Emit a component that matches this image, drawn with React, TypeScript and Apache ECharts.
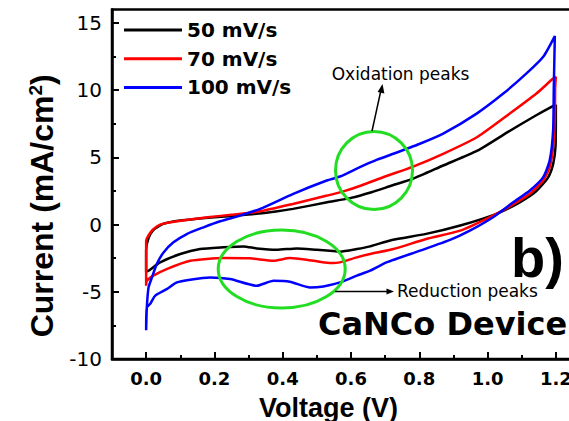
import React, { useEffect, useRef } from "react";
import * as echarts from "echarts";

const seriesNames = ["50 mV/s", "70 mV/s", "100 mV/s"];
const seriesColors = ["#000000", "#ff0000", "#0000ff"];

// 50 mV/s : forward scan (0 -> 1.2 V) then reverse scan (1.2 -> 0 V)
const voltage50 = [0, 0, 0.007, 0.021, 0.05, 0.1, 0.2, 0.3, 0.38, 0.43, 0.53, 0.6, 0.66, 0.72, 0.78, 0.87, 0.97, 1.06, 1.14, 1.19, 1.2,
  1.2, 1.199, 1.192, 1.177, 1.143, 1.094, 1.026, 0.92, 0.82, 0.72, 0.656, 0.617, 0.568, 0.538, 0.5, 0.441, 0.382, 0.324, 0.285, 0.226, 0.158, 0.1, 0.041, 0.007, 0];
const current50 = [-3.5, -1.9, -1.0, -0.4, 0.05, 0.3, 0.55, 0.75, 0.98, 1.17, 1.66, 1.99, 2.41, 2.91, 3.4, 4.4, 5.5, 6.9, 8.1, 8.8, 8.9,
  7.8, 5.8, 4.5, 3.5, 2.5, 1.66, 0.8, -0.07, -0.69, -1.14, -1.62, -1.82, -2.01, -1.94, -1.87, -1.77, -1.87, -1.77, -1.62, -1.69, -1.82, -2.19, -2.81, -3.43, -3.5];

// 70 mV/s
const voltage70 = [0, 0, 0.017, 0.041, 0.09, 0.18, 0.256, 0.334, 0.43, 0.53, 0.58, 0.63, 0.70, 0.78, 0.87, 0.97, 1.065, 1.143, 1.192, 1.2,
  1.198, 1.197, 1.192, 1.182, 1.163, 1.124, 1.075, 1.016, 0.92, 0.82, 0.724, 0.656, 0.617, 0.568, 0.538, 0.47, 0.421, 0.373, 0.304, 0.226, 0.129, 0.06, 0.021, 0.002, 0];
const current70 = [-4.55, -1.2, -0.45, 0, 0.25, 0.55, 0.75, 0.99, 1.54, 2.16, 2.49, 2.91, 3.58, 4.3, 5.27, 6.52, 8.26, 9.75, 10.87, 11.0,
  10.2, 7.76, 5.77, 4.28, 3.28, 2.29, 1.5, 0.67, -0.45, -1.07, -1.82, -2.19, -2.44, -2.81, -2.86, -2.61, -2.49, -2.69, -2.51, -2.49, -2.69, -3.31, -3.8, -4.18, -4.55];

// 100 mV/s
const voltage100 = [0, 0.002, 0.007, 0.017, 0.031, 0.051, 0.08, 0.119, 0.168, 0.217, 0.275, 0.334, 0.431, 0.529, 0.568, 0.626, 0.675, 0.724, 0.8, 0.87, 0.968, 1.046, 1.114, 1.163, 1.197,
  1.194, 1.192, 1.182, 1.163, 1.124, 1.075, 1.016, 0.948, 0.89, 0.802, 0.704, 0.656, 0.617, 0.568, 0.519, 0.48, 0.421, 0.373, 0.324, 0.246, 0.187, 0.129, 0.09, 0.06, 0.026, 0.012, 0.002, 0];
const current100 = [-7.86, -6.17, -4.68, -3.93, -2.94, -2.07, -1.32, -0.7, -0.2, 0.25, 0.67, 1.17, 2.29, 3.28, 3.58, 4.28, 4.82, 5.27, 6.0, 6.77, 8.26, 9.75, 11.25, 12.49, 14.03,
  10.25, 7.01, 4.78, 3.53, 2.54, 1.66, 0.55, -0.45, -1.14, -1.94, -2.81, -3.43, -3.8, -4.3, -4.6, -4.68, -4.25, -4.18, -4.55, -4.05, -3.93, -4.1, -4.3, -4.8, -5.3, -5.9, -6.17, -7.86];

const xMajorTicks = [0, 0.2, 0.4, 0.6, 0.8, 1.0, 1.2];
const xMinorTicks = [0.1, 0.3, 0.5, 0.7, 0.9, 1.1];
const yMajorTicks = [-10, -5, 0, 5, 10, 15];
const yMinorTicks = [-7.5, -2.5, 2.5, 7.5, 12.5];

const xTitle = "Voltage (V)";
const yTitle = "Current (mA/cm{sup|2})";
const oxidationLabel = "Oxidation peaks";
const reductionLabel = "Reduction peaks";
const panelLabel = "b)";
const deviceLabel = "CaNCo Device";

const toPairs = (xs: number[], ys: number[]) => xs.map((x, i) => [x, ys[i]]);

export default function App() {
  const ref = useRef<HTMLDivElement>(null);
  useEffect(() => {
    if (!ref.current) return;
    const chart = echarts.init(ref.current, undefined, { renderer: "svg" });
    const green = "#22dd22";
    const datasets = [toPairs(voltage50, current50), toPairs(voltage70, current70), toPairs(voltage100, current100)];
    chart.setOption({
      animation: false,
      backgroundColor: "#ffffff",
      grid: { left: 112, right: 10, top: 9.6, bottom: 62, show: true, borderColor: "#000", borderWidth: 2.5, containLabel: false, outerBoundsMode: "none" },
      legend: {
        orient: "vertical", left: 124, top: 19, padding: 0, itemWidth: 58, itemHeight: 3, itemGap: 6.7, icon: "rect",
        textStyle: { fontFamily: "DejaVu Sans", fontWeight: "bold", fontSize: 20, color: "#000", lineHeight: 22 },
        data: seriesNames,
      },
      xAxis: [
        {
          type: "value", min: -0.1, max: 1.3, position: "bottom",
          axisLine: { show: true, onZero: false, lineStyle: { color: "#000", width: 2.5 } },
          axisTick: { show: true, inside: true, length: 7, customValues: xMajorTicks, lineStyle: { color: "#000", width: 2 } },
          axisLabel: { show: true, customValues: xMajorTicks, margin: 10, formatter: (v: number) => v.toFixed(1),
            fontFamily: "DejaVu Sans", fontWeight: "bold", fontSize: 18, color: "#000" },
          splitLine: { show: false },
          name: xTitle, nameLocation: "middle", nameGap: 35,
          nameTextStyle: { fontFamily: "Liberation Sans", fontWeight: "bold", fontSize: 27, color: "#000", padding: [0, 45, 0, 0] },
        },
        {
          type: "value", min: -0.1, max: 1.3, position: "bottom",
          axisLine: { show: false, onZero: false },
          axisTick: { show: true, inside: true, length: 4, customValues: xMinorTicks, lineStyle: { color: "#000", width: 2 } },
          axisLabel: { show: false },
          splitLine: { show: false },
        },
      ],
      yAxis: [
        {
          type: "value", min: -10, max: 16, position: "left",
          axisLine: { show: true, onZero: false, lineStyle: { color: "#000", width: 2.5 } },
          axisTick: { show: true, inside: true, length: 7, customValues: yMajorTicks, lineStyle: { color: "#000", width: 2 } },
          axisLabel: { show: true, customValues: yMajorTicks, margin: 10,
            fontFamily: "DejaVu Sans", fontSize: 20, color: "#000" },
          splitLine: { show: false },
          name: yTitle, nameLocation: "middle", nameGap: 50, nameRotate: 90,
          nameTextStyle: {
            fontFamily: "Liberation Sans", fontWeight: "bold", fontSize: 32, color: "#000", padding: [0, 43, 0, 0],
            rich: { sup: { fontFamily: "Liberation Sans", fontWeight: "bold", fontSize: 19, color: "#000", verticalAlign: "top" } },
          },
        },
        {
          type: "value", min: -10, max: 16, position: "left",
          axisLine: { show: false, onZero: false },
          axisTick: { show: true, inside: true, length: 4, customValues: yMinorTicks, lineStyle: { color: "#000", width: 2 } },
          axisLabel: { show: false },
          splitLine: { show: false },
        },
      ],
      series: seriesNames.map((name, i) => ({
        name, type: "line", xAxisIndex: 0, yAxisIndex: 0, data: datasets[i],
        symbol: "none", smooth: 0.2, color: seriesColors[i],
        lineStyle: { color: seriesColors[i], width: 2.5 },
      })),
      graphic: [
        { type: "ellipse", shape: { cx: 374, cy: 170.5, rx: 38.5, ry: 39 }, style: { fill: "none", stroke: green, lineWidth: 3 }, z: 10 },
        { type: "ellipse", shape: { cx: 281.7, cy: 269, rx: 63.5, ry: 39 }, style: { fill: "none", stroke: green, lineWidth: 3 }, z: 10 },
        { type: "line", shape: { x1: 372, y1: 131, x2: 381, y2: 90 }, style: { stroke: "#000", lineWidth: 1.5 }, z: 10 },
        { type: "polygon", shape: { points: [[382.5, 84], [384.4, 93.5], [377.6, 92.1]] }, style: { fill: "#000" }, z: 10 },
        { type: "line", shape: { x1: 335, y1: 291.5, x2: 390, y2: 291.5 }, style: { stroke: "#000", lineWidth: 1.5 }, z: 10 },
        { type: "polygon", shape: { points: [[394, 291.5], [386.5, 288.5], [386.5, 294.5]] }, style: { fill: "#000" }, z: 10 },
        { type: "text", x: 331.7, y: 74, style: { text: oxidationLabel, font: "17px 'DejaVu Sans'", fill: "#000", align: "left", verticalAlign: "middle" }, z: 10 },
        { type: "text", x: 397, y: 290.5, style: { text: reductionLabel, font: "17px 'DejaVu Sans'", fill: "#000", align: "left", verticalAlign: "middle" }, z: 10 },
        { type: "text", x: 511, y: 257.6, style: { text: panelLabel, font: "bold 56px 'Liberation Sans'", fill: "#000", align: "left", verticalAlign: "middle" }, z: 10 },
        { type: "text", x: 318, y: 324, style: { text: deviceLabel, font: "bold 32px 'DejaVu Sans'", fill: "#000", align: "left", verticalAlign: "middle" }, z: 10 },
      ],
    });
    return () => chart.dispose();
  }, []);
  return (
    <div style={{ position: "absolute", left: 0, top: 0, width: 569, height: 421, overflow: "hidden", background: "#fff" }}>
      <div ref={ref} style={{ width: 600, height: 421 }} />
    </div>
  );
}
